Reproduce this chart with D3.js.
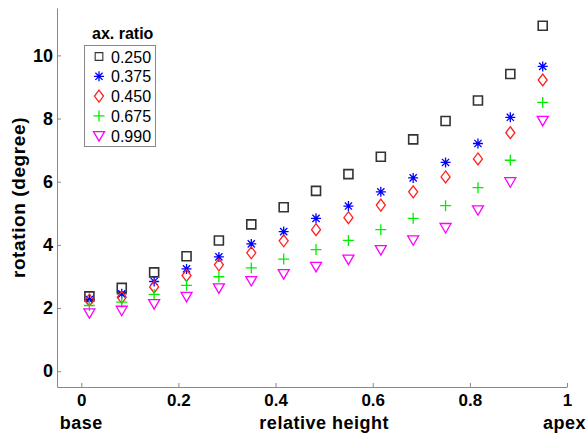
<!DOCTYPE html>
<html>
<head>
<meta charset="utf-8">
<script src="https://cdn.jsdelivr.net/npm/d3@7"></script>
<style>
  body { margin: 0; background: #fff; }
  svg { display: block; font-family: "Liberation Sans", Arial, sans-serif; }
</style>
</head>
<body>
<svg id="chart" width="587" height="434"></svg>
<script>
// relative height positions (15 slices)
const heights = [0.0167, 0.0833, 0.15, 0.2167, 0.2833, 0.35, 0.4167, 0.4833, 0.55, 0.6167, 0.6833, 0.75, 0.8167, 0.8833, 0.95];

const ratios = ['0.250', '0.375', '0.450', '0.675', '0.990'];

// rotation (degree) per axial ratio
const rot250 = [2.37, 2.64, 3.13, 3.64, 4.14, 4.65, 5.19, 5.71, 6.24, 6.79, 7.34, 7.92, 8.57, 9.41, 10.94];
const rot375 = [2.27, 2.45, 2.84, 3.24, 3.62, 4.03, 4.42, 4.84, 5.23, 5.68, 6.12, 6.61, 7.21, 8.04, 9.65];
const rot450 = [2.25, 2.34, 2.67, 3.03, 3.37, 3.75, 4.13, 4.48, 4.86, 5.26, 5.68, 6.15, 6.72, 7.55, 9.22];
const rot675 = [2.08, 2.19, 2.43, 2.72, 2.99, 3.27, 3.55, 3.85, 4.14, 4.48, 4.84, 5.24, 5.81, 6.68, 8.51];
const rot990 = [1.85, 1.93, 2.14, 2.37, 2.64, 2.87, 3.09, 3.32, 3.55, 3.85, 4.16, 4.55, 5.11, 6.00, 7.94];

const xTicks = [0, 0.2, 0.4, 0.6, 0.8, 1];
const yTicks = [0, 2, 4, 6, 8, 10];

const series = [
  {name: ratios[0], values: rot250, shape: 'square', color: '#333333'},
  {name: ratios[1], values: rot375, shape: 'star', color: '#0000ff'},
  {name: ratios[2], values: rot450, shape: 'diamond', color: '#ff2020'},
  {name: ratios[3], values: rot675, shape: 'plus', color: '#00ee00'},
  {name: ratios[4], values: rot990, shape: 'tri', color: '#ff00ff'}
];

const svg = d3.select('#chart');
const x = d3.scaleLinear().domain([-0.05, 1]).range([57, 567]);
const y = d3.scaleLinear().domain([-0.5, 11.5]).range([387, 8]);

// marker path strings centred on 0,0
function markerPath(shape) {
  switch (shape) {
    case 'square': return 'M-4.5,-4.5H4.5V4.5H-4.5Z';
    case 'star': return 'M-5,0H5M0,-5V5M-3.6,-3.6L3.6,3.6M-3.6,3.6L3.6,-3.6';
    case 'diamond': return 'M0,-6L4.5,0L0,6L-4.5,0Z';
    case 'plus': return 'M-5.5,0H5.5M0,-5.5V5.5';
    case 'tri': return 'M-5.5,-4L5.5,-4L0,5.5Z';
  }
}

// axes: only left and bottom, grey, ticks inward
const axisColor = '#888';
const gx = svg.append('g').attr('transform', `translate(0,${y(-0.5)})`)
  .call(d3.axisBottom(x).tickValues(xTicks).tickSizeInner(-4).tickSizeOuter(0).tickPadding(7)
    .tickFormat(d3.format('~g')));
const gy = svg.append('g').attr('transform', `translate(${x(-0.05)},0)`)
  .call(d3.axisLeft(y).tickValues(yTicks).tickSizeInner(-4).tickSizeOuter(0).tickPadding(4));

[gx, gy].forEach(g => {
  g.select('.domain').attr('stroke', axisColor).attr('stroke-width', 1);
  g.selectAll('.tick line').attr('stroke', axisColor);
  g.selectAll('.tick text')
    .attr('fill', '#000')
    .style('font-family', '"Liberation Sans", Arial, sans-serif')
    .style('font-size', '17px')
    .style('font-weight', 'bold');
});
gx.selectAll('.tick text').attr('dy', '0.72em');
gy.selectAll('.tick text').style('font-size', '18px');

// axis titles
svg.append('text')
  .attr('transform', `translate(25,${(y(-0.5) + y(11.5)) / 2}) rotate(-90)`)
  .attr('text-anchor', 'middle')
  .style('font-size', '19px').style('font-weight', 'bold')
  .style('letter-spacing', '0.6px')
  .text('rotation (degree)');

const xLabels = [
  {t: 'base', v: 0, anchor: 'middle', dx: 0},
  {t: 'relative height', v: 0.5, anchor: 'middle', dx: 0},
  {t: 'apex', v: 1, anchor: 'end', dx: 19}
];
svg.selectAll('.xlab').data(xLabels).enter()
  .append('text')
  .attr('class', 'xlab')
  .attr('x', d => x(d.v) + d.dx)
  .attr('y', 429)
  .attr('text-anchor', d => d.anchor)
  .style('font-size', '18px').style('font-weight', 'bold')
  .style('letter-spacing', '0.5px')
  .text(d => d.t);

// points
series.forEach(s => {
  svg.append('g').selectAll('path')
    .data(s.values)
    .enter()
    .append('path')
    .attr('d', markerPath(s.shape))
    .attr('transform', (d, i) => `translate(${x(heights[i])},${y(d)})`)
    .attr('fill', 'none')
    .attr('stroke', s.color)
    .attr('stroke-width', s.shape == 'square' ? 1.6 : 1.3);
});

// legend
const lg = svg.append('g');
lg.append('text')
  .attr('x', 92).attr('y', 39)
  .style('font-size', '16px').style('font-weight', 'bold')
  .text('ax. ratio');
lg.append('rect')
  .attr('x', 84.5).attr('y', 45.5).attr('width', 71).attr('height', 101)
  .attr('fill', '#fff').attr('stroke', '#888');
const rows = lg.selectAll('.row').data(series).enter()
  .append('g')
  .attr('transform', (d, i) => `translate(99,${56.5 + i * 19.8})`);
rows.append('path')
  .attr('d', d => markerPath(d.shape))
  .attr('fill', 'none')
  .attr('stroke', d => d.color)
  .attr('stroke-width', 1.3)
  .attr('transform', d => d.shape == 'square' ? 'scale(0.85)' : null);
rows.append('text')
  .attr('x', 12).attr('y', 6)
  .style('font-size', '16px')
  .text(d => d.name);
</script>
</body>
</html>
